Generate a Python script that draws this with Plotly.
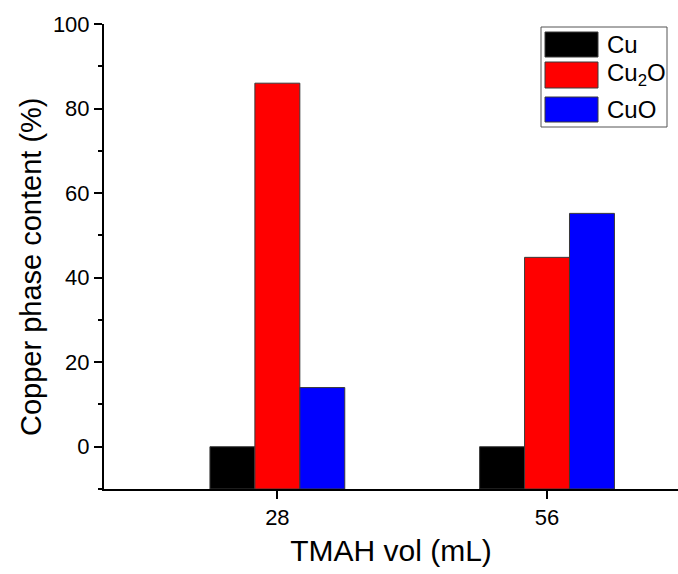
import plotly.graph_objects as go

# ---- data ----
tmah_vol = [28, 56]
phase_names = ["Cu", "Cu<sub>2</sub>O", "CuO"]
cu_values = [0.0, 0.0]
cu2o_values = [86.0, 44.8]
cuo_values = [14.0, 55.2]
phase_colors = ["#000000", "#ff0000", "#0000ff"]
y_ticks = [0, 20, 40, 60, 80, 100]

Y_MIN, Y_MAX = -10, 100
X_MIN, X_MAX = 10.0, 69.6

W, H = 678, 574
ML, MR, MT, MB = 104, 0, 24, 85
FONT = "Liberation Sans, Arial, sans-serif"

series = [cu_values, cu2o_values, cuo_values]

fig = go.Figure()
for name, vals, col in zip(phase_names, series, phase_colors):
    fig.add_trace(go.Bar(
        x=tmah_vol,
        y=[v - Y_MIN for v in vals],
        base=Y_MIN,
        name=name,
        marker=dict(color=col, line=dict(color="#3a3a3a", width=1)),
        customdata=vals,
        hovertemplate="%{customdata}<extra>" + name + "</extra>",
        showlegend=False,
    ))

# ---- custom legend (large swatches as in the original) ----
pw, ph = W - ML - MR, H - MT - MB
def px(xp):
    return (xp - ML) / pw
def py(yp):
    return (H - MB - yp) / ph

shapes = [dict(type="rect", xref="paper", yref="paper",
               x0=px(541), x1=px(667), y0=py(127), y1=py(27),
               line=dict(color="#555555", width=1), fillcolor="white", layer="above")]
annotations = []
rows = [(32, 57), (62, 88), (97, 122)]
for (t, b), name, col in zip(rows, phase_names, phase_colors):
    shapes.append(dict(type="rect", xref="paper", yref="paper",
                       x0=px(545), x1=px(598), y0=py(b), y1=py(t),
                       line=dict(color="#3a3a3a", width=1), fillcolor=col, layer="above"))
    annotations.append(dict(xref="paper", yref="paper", x=px(605), y=py((t + b) / 2),
                            text=name, showarrow=False, xanchor="left", yanchor="middle",
                            font=dict(family=FONT, size=24, color="black")))

# y-axis title as rotated text, placed as in the original
annotations.append(dict(xref="paper", yref="paper", x=px(31), y=py(267),
                        text="Copper phase content (%)", textangle=-90, showarrow=False,
                        xanchor="center", yanchor="middle",
                        font=dict(family=FONT, size=29, color="black")))

fig.update_layout(
    width=W, height=H,
    margin=dict(l=ML, r=MR, t=MT, b=MB, pad=0, autoexpand=False),
    paper_bgcolor="white", plot_bgcolor="white",
    barmode="group", bargap=0.5, bargroupgap=0,
    font=dict(family=FONT, size=22, color="black"),
    shapes=shapes, annotations=annotations,
    showlegend=False,
)
fig.update_xaxes(
    range=[X_MIN, X_MAX], tickvals=tmah_vol, ticktext=[str(v) for v in tmah_vol],
    showline=True, linecolor="black", linewidth=2, mirror=False,
    ticks="outside", ticklen=8, tickwidth=2, tickcolor="black",
    showgrid=False, zeroline=False, automargin=False,
    title=dict(text="TMAH vol (mL)", font=dict(family=FONT, size=30), standoff=11),
    tickfont=dict(family=FONT, size=22),
)
fig.update_yaxes(
    range=[Y_MIN, Y_MAX], tickvals=y_ticks,
    showline=True, linecolor="black", linewidth=2, mirror=False,
    ticks="outside", ticklen=8, tickwidth=2, tickcolor="black",
    minor=dict(dtick=10, tick0=0, ticks="outside", ticklen=4, tickwidth=2, tickcolor="black"),
    showgrid=False, zeroline=False, automargin=False,
    tickfont=dict(family=FONT, size=22),
)

fig.write_html(
    "out.html",
    config={"displayModeBar": False},
    post_script="document.body.style.margin='0';document.body.style.overflow='hidden';",
)
